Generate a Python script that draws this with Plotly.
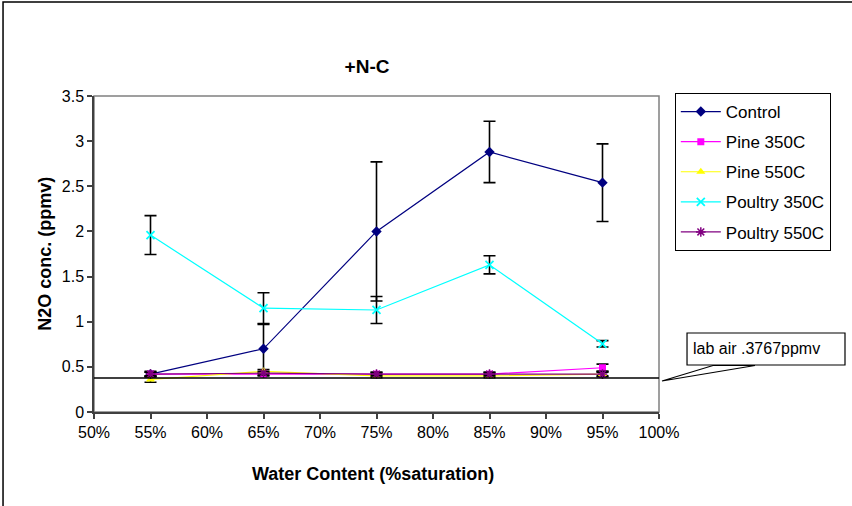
import plotly.graph_objects as go

# ---- data ----
water_content = [55, 65, 75, 85, 95]
x_tick_vals = [50, 55, 60, 65, 70, 75, 80, 85, 90, 95, 100]
x_tick_text = ["50%", "55%", "60%", "65%", "70%", "75%", "80%", "85%", "90%", "95%", "100%"]
y_tick_vals = [0, 0.5, 1, 1.5, 2, 2.5, 3, 3.5]
y_tick_text = ["0", "0.5", "1", "1.5", "2", "2.5", "3", "3.5"]

control = [0.42, 0.70, 2.00, 2.88, 2.54]
control_err = [0.03, 0.27, 0.77, 0.34, 0.43]
pine350 = [0.42, 0.42, 0.42, 0.42, 0.49]
pine350_err = [0.02, 0.02, 0.02, 0.02, 0.04]
pine550 = [0.36, 0.45, 0.40, 0.40, 0.42]
pine550_err = [0.03, 0.02, 0.02, 0.02, 0.02]
poultry350 = [1.96, 1.15, 1.13, 1.63, 0.755]
poultry350_err = [0.215, 0.17, 0.15, 0.10, 0.035]
poultry550 = [0.42, 0.43, 0.42, 0.42, 0.42]
poultry550_err = [0.02, 0.02, 0.02, 0.02, 0.03]
LAB_AIR = 0.3767

FONT = "Liberation Sans, Arial, sans-serif"

series = [
    ("Control", control, control_err, "#000080", "diamond", 8, 0),
    ("Pine 350C", pine350, pine350_err, "#FF00FF", "square", 7, 0),
    ("Pine 550C", pine550, pine550_err, "#FFFF00", "triangle-up", 8, 0),
    ("Poultry 350C", poultry350, poultry350_err, "#00FFFF", "x-thin-open", 8, 1.8),
    ("Poultry 550C", poultry550, poultry550_err, "#800080", "asterisk-open", 8, 1.5),
]

fig = go.Figure()
for i, (name, ys, errs, color, sym, size, mlw) in enumerate(series):
    fig.add_trace(go.Scatter(
        x=water_content, y=ys, name=name, mode="lines+markers",
        line=dict(color=color, width=1.2),
        marker=dict(symbol=sym, size=size, color=color, line=dict(color=color, width=mlw)),
        error_y=dict(type="data", array=errs, visible=True, color="black", thickness=1.6, width=6),
        legendgroup=f"g{i}",
    ))

# plot area border (gray) and lab air line
fig.add_shape(type="rect", xref="paper", yref="paper", x0=0, x1=1, y0=0, y1=1,
              line=dict(color="#808080", width=1.5), layer="below")
fig.add_shape(type="line", xref="paper", yref="y", x0=0, x1=1, y0=LAB_AIR, y1=LAB_AIR,
              line=dict(color="black", width=1.5))

# outer chart frame
fig.add_shape(type="rect", xref="paper", yref="paper", x0=-0.161, x1=1.35, y0=-0.33, y1=1.2975,
              line=dict(color="black", width=1.5))

# callout box and wedge pointer
fig.add_shape(type="path", xref="paper", yref="paper",
              path="M 1.0053 0.0981 L 1.0956 0.1472 L 1.1699 0.1472 Z",
              line=dict(color="black", width=1.2), fillcolor="white")
fig.add_shape(type="rect", xref="paper", yref="paper", x0=1.0496, x1=1.3292, y0=0.1487, y1=0.25,
              line=dict(color="black", width=1.2), fillcolor="white")
fig.add_annotation(xref="paper", yref="paper", x=1.0566, y=0.1994, xanchor="left", yanchor="middle",
                   text="lab air .3767ppmv", showarrow=False, font=dict(family=FONT, size=16, color="black"))

# axis titles
fig.add_annotation(xref="paper", yref="paper", x=0.494, y=-0.196, xanchor="center", yanchor="middle",
                   text="<b>Water Content (%saturation)</b>", showarrow=False,
                   font=dict(family=FONT, size=18, color="black"))
fig.add_annotation(xref="paper", yref="paper", x=-0.087, y=0.5, xanchor="center", yanchor="middle",
                   text="<b>N2O conc. (ppmv)</b>", textangle=-90, showarrow=False,
                   font=dict(family=FONT, size=18, color="black"))

fig.update_layout(
    width=852, height=506,
    margin=dict(l=94, r=193, t=96, b=94),
    paper_bgcolor="white", plot_bgcolor="white",
    font=dict(family=FONT, size=16, color="black"),
    title=dict(text="<b>+N-C</b>", x=0.4832, xref="paper", xanchor="center",
               y=1 - 66 / 506, yref="container", yanchor="middle",
               font=dict(family=FONT, size=19, color="black")),
    showlegend=True,
    hovermode=False,
    legend=dict(x=1.028, y=1.0095, xanchor="left", yanchor="top",
                bordercolor="black", borderwidth=1, bgcolor="white",
                font=dict(family=FONT, size=17, color="black"),
                tracegroupgap=5, itemwidth=40),
)
fig.update_xaxes(range=[50, 100], tickvals=x_tick_vals, ticktext=x_tick_text,
                 showgrid=False, zeroline=False, showline=True, linecolor="#404040", linewidth=1.5,
                 ticks="outside", ticklen=5, tickcolor="#404040", tickwidth=1.5,
                 tickfont=dict(family=FONT, size=16, color="black"))
fig.update_yaxes(range=[0, 3.5], tickvals=y_tick_vals, ticktext=y_tick_text,
                 showgrid=False, zeroline=False, showline=True, linecolor="#404040", linewidth=1.5,
                 ticks="outside", ticklen=5, tickcolor="#404040", tickwidth=1.5,
                 tickfont=dict(family=FONT, size=16, color="black"))

fig.write_html("out.html", config={"displayModeBar": False},
               post_script="document.body.style.margin='0';document.body.style.overflow='hidden';")
